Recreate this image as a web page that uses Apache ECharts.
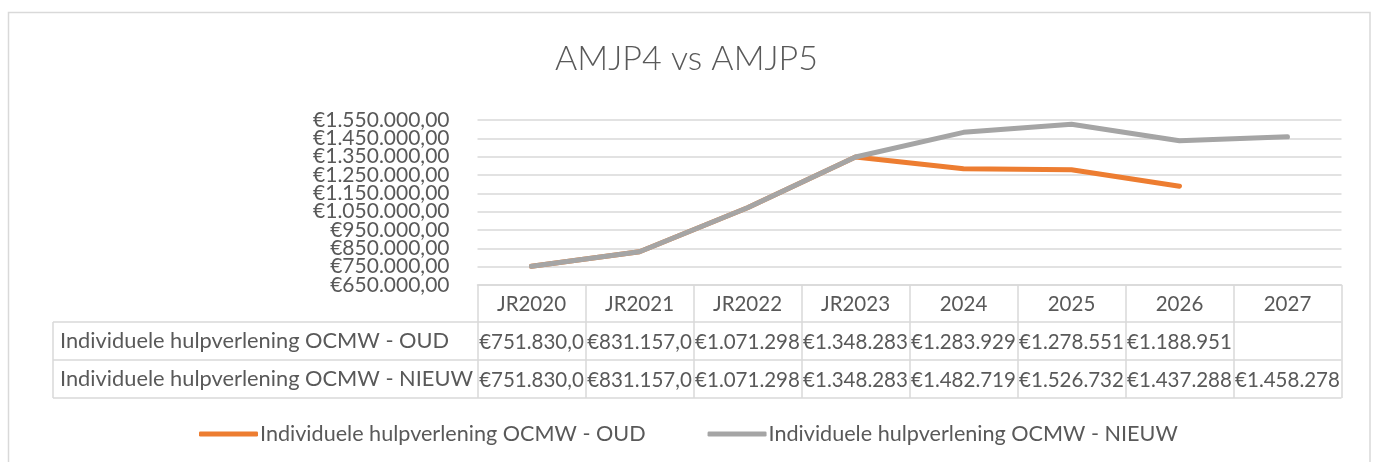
<!DOCTYPE html>
<html>
<head>
<meta charset="utf-8">
<script src="https://cdn.jsdelivr.net/npm/echarts@6/dist/echarts.min.js"></script>
<style>
html,body{margin:0;padding:0;background:#fff;}
#c{width:1373px;height:462px;}
</style>
</head>
<body>
<div id="c"></div>
<script>
const title = 'AMJP4 vs AMJP5';
const categories = ['JR2020', 'JR2021', 'JR2022', 'JR2023', '2024', '2025', '2026', '2027'];
const seriesNames = ['Individuele hulpverlening OCMW - OUD', 'Individuele hulpverlening OCMW - NIEUW'];
const oud = [751830, 831157, 1071298, 1348283, 1283929, 1278551, 1188951, null];
const nieuw = [751830, 831157, 1071298, 1348283, 1482719, 1526732, 1437288, 1458278];
const yMin = 650000, yMax = 1550000, yStep = 100000;

const FONT = 'Lato';
const TXT = '#595959';
const LINE = '#d9d9d9';

function eur(v) {
  const parts = Number(v).toFixed(2).split('.');
  return '\u20AC' + parts[0].replace(/\B(?=(\d{3})+(?!\d))/g, '.') + ',' + parts[1];
}
function cell(v) {
  if (v === null || v === undefined) return ' ';
  return eur(v).slice(0, 10);
}

const chart = echarts.init(document.getElementById('c'), null, {renderer: 'canvas'});

const gridL = 477.5, gridR = 1373 - 1341.5, gridT = 120, gridB = 462 - 285;
const rowH = 38, headTop = 285, row1Top = 322, row2Top = 360, tableBot = 398, tableLeft = 53;

const yLabelStyle = {margin: 28, color: TXT, fontFamily: FONT, fontSize: 21, formatter: eur};

chart.setOption({
  animation: false,
  backgroundColor: '#fff',
  textStyle: {fontFamily: FONT},
  title: {
    text: title, left: 'center', top: 37,
    textStyle: {fontFamily: FONT, fontWeight: 300, fontSize: 34, color: TXT}
  },
  legend: {
    bottom: 12, left: 194,
    itemWidth: 59, itemHeight: 5, itemGap: 62, icon: 'roundRect',
    textStyle: {fontFamily: FONT, fontSize: 21.6, color: TXT, padding: [0, 0, 0, -3]},
    data: seriesNames
  },
  grid: {left: gridL, right: gridR, top: gridT, bottom: gridB, containLabel: false},
  xAxis: {
    type: 'category', data: categories, boundaryGap: true,
    axisLine: {show: true, lineStyle: {color: LINE, width: 1.5}},
    axisTick: {show: true, interval: 0, length: tableBot - headTop, lineStyle: {color: LINE, width: 1.5}},
    axisLabel: {
      interval: 0, margin: 0, color: TXT, fontFamily: FONT, fontSize: 20.5,
      formatter: function (val, idx) {
        return '{h|' + val + '}\n{v|' + cell(oud[idx]) + '}\n{v|' + cell(nieuw[idx]) + '}';
      },
      rich: {
        h: {fontFamily: FONT, fontSize: 20.5, color: TXT, lineHeight: rowH, height: rowH, align: 'center'},
        v: {fontFamily: FONT, fontSize: 20.5, color: TXT, lineHeight: rowH, height: rowH, align: 'center'}
      }
    },
    splitLine: {show: false}
  },
  yAxis: [
    {
      type: 'value', min: yMin, max: yMax, interval: yStep,
      axisLine: {show: false}, axisTick: {show: false},
      axisLabel: Object.assign({showMinLabel: false, showMaxLabel: false}, yLabelStyle),
      splitLine: {show: true, lineStyle: {color: LINE, width: 1.5}}
    },
    {
      type: 'value', position: 'left', min: yMin, max: yMax, interval: yMax - yMin,
      axisLine: {show: false}, axisTick: {show: false},
      axisLabel: Object.assign({showMinLabel: true, showMaxLabel: true}, yLabelStyle),
      splitLine: {show: false}
    }
  ],
  series: [
    {name: seriesNames[0], type: 'line', data: oud, symbol: 'none', connectNulls: false,
     lineStyle: {color: '#ED7D31', width: 5, cap: 'round', join: 'round'}, itemStyle: {color: '#ED7D31'}},
    {name: seriesNames[1], type: 'line', data: nieuw, symbol: 'none',
     lineStyle: {color: '#A5A5A5', width: 5, cap: 'round', join: 'round'}, itemStyle: {color: '#A5A5A5'}}
  ],
  graphic: [
    {type: 'rect', silent: true, shape: {x: 8.5, y: 12.5, width: 1361.5, height: 470}, style: {fill: 'none', stroke: LINE, lineWidth: 1.5}},
    {type: 'line', silent: true, shape: {x1: tableLeft, y1: row1Top, x2: 1341.5, y2: row1Top}, style: {stroke: LINE, lineWidth: 1.5}},
    {type: 'line', silent: true, shape: {x1: tableLeft, y1: row2Top, x2: 1341.5, y2: row2Top}, style: {stroke: LINE, lineWidth: 1.5}},
    {type: 'line', silent: true, shape: {x1: tableLeft, y1: tableBot, x2: 1341.5, y2: tableBot}, style: {stroke: LINE, lineWidth: 1.5}},
    {type: 'line', silent: true, shape: {x1: tableLeft, y1: row1Top, x2: tableLeft, y2: tableBot}, style: {stroke: LINE, lineWidth: 1.5}},
    {type: 'text', silent: true, x: 60, y: (row1Top + row2Top) / 2, style: {text: seriesNames[0], fill: TXT, font: '21.8px ' + FONT, verticalAlign: 'middle', align: 'left'}},
    {type: 'text', silent: true, x: 60, y: (row2Top + tableBot) / 2, style: {text: seriesNames[1], fill: TXT, font: '21.8px ' + FONT, verticalAlign: 'middle', align: 'left'}}
  ]
});
</script>
</body>
</html>
